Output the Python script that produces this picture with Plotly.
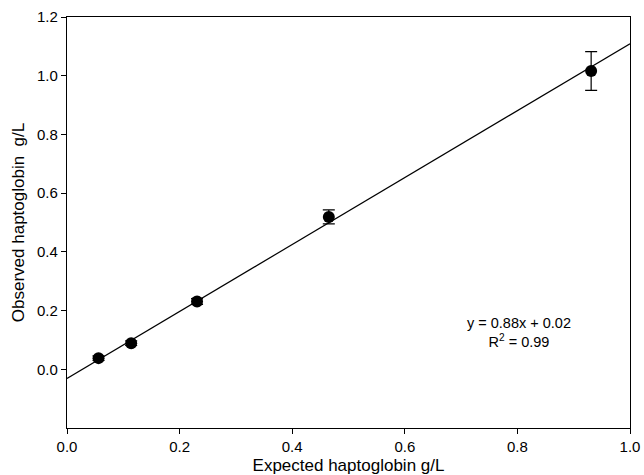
import plotly.graph_objects as go

expected = [0.056, 0.114, 0.231, 0.465, 0.931]
observed = [0.038, 0.089, 0.231, 0.519, 1.016]
err = [0.008, 0.008, 0.01, 0.024, 0.066]
fit_x = [0.0, 1.0]
fit_y = [-0.031, 1.109]
y_ticks = [0.0, 0.2, 0.4, 0.6, 0.8, 1.0, 1.2]
x_ticks = [0.0, 0.2, 0.4, 0.6, 0.8, 1.0]

fig = go.Figure()
fig.add_trace(go.Scatter(x=fit_x, y=fit_y, mode="lines",
                         line=dict(color="black", width=1.2), showlegend=False))
fig.add_trace(go.Scatter(x=expected, y=observed, mode="markers",
                         marker=dict(color="black", size=12),
                         error_y=dict(type="data", array=err, color="black",
                                      thickness=1.2, width=6),
                         showlegend=False))

font = "Liberation Sans, Arial, sans-serif"
fig.update_layout(
    width=644, height=475,
    margin=dict(l=67, r=14, t=17, b=47),
    paper_bgcolor="white", plot_bgcolor="white",
    font=dict(family=font, color="black", size=15),
    annotations=[dict(x=0.803, y=0.125, xref="x", yref="y",
                      text="y = 0.88x + 0.02<br>R<sup>2</sup> = 0.99",
                      showarrow=False, font=dict(size=14.5, family=font),
                      align="center")],
)
fig.update_xaxes(range=[0, 1.0], tickvals=x_ticks, ticktext=[f"{v:.1f}" for v in x_ticks],
                 showgrid=False, zeroline=False, showline=True, linecolor="black",
                 linewidth=1.2, mirror=True, ticks="outside", ticklen=5,
                 tickcolor="black", automargin=False,
                 title=dict(text="Expected haptoglobin g/L", font=dict(size=17), standoff=6))
fig.update_yaxes(range=[-0.2, 1.2], tickvals=y_ticks, ticktext=[f"{v:.1f}" for v in y_ticks],
                 showgrid=False, zeroline=False, showline=True, linecolor="black",
                 linewidth=1.2, mirror=True, ticks="outside", ticklen=5,
                 tickcolor="black", automargin=False,
                 title=dict(text="Observed haptoglobin  g/L", font=dict(size=17), standoff=8))

fig.write_html("out.html")
